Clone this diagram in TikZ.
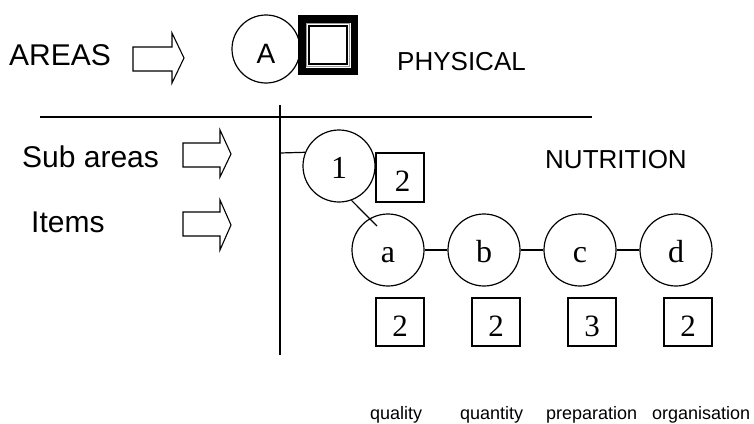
\documentclass[tikz,border=0pt]{standalone}
\usepackage{fontspec}
\setmainfont{Liberation Serif}
\newfontfamily\arialf{Liberation Sans}
\begin{document}
\begin{tikzpicture}[x=1pt,y=-1pt,
  lbl/.style={font=\arialf\fontsize{30}{33}\selectfont, anchor=base west, inner sep=0},
  hdr/.style={font=\arialf\fontsize{26}{29}\selectfont, anchor=base west, inner sep=0},
  small/.style={font=\arialf\fontsize{18}{20}\selectfont, anchor=base west, inner sep=0},
  ring/.style={circle, draw, line width=1.2pt, minimum size=72pt, inner sep=0, text height=24pt, text depth=0pt, font=\fontsize{32}{34}\selectfont},
  numbox/.style={rectangle, draw, line width=1.2pt, minimum width=48pt, minimum height=48pt, inner sep=0, text height=28pt, text depth=0pt, font=\fontsize{31}{33}\selectfont},
  line/.style={line width=1.2pt},
  barrow/.style={draw, line width=1.1pt, fill=white}
]
\useasboundingbox (0,0) rectangle (754,423);

% left labels
\node[lbl] (areas) at (9,65) {AREAS};
\node[lbl] (subareas) at (22,167) {Sub areas};
\node[lbl] (items) at (31,232) {Items};

% block arrows
\draw[barrow] (133,47) -- (172,47) -- (172,33) -- (184,58) -- (172,83) -- (172,71) -- (133,71) -- cycle;
\draw[barrow] (183,143) -- (220,143) -- (220,130) -- (231,154) -- (220,177) -- (220,167) -- (183,167) -- cycle;
\draw[barrow] (183,212) -- (220,212) -- (220,200) -- (231,225) -- (220,250) -- (220,236) -- (183,236) -- cycle;

% area A and double square
\node[circle, draw, line width=1.2pt, minimum size=68pt, inner sep=0, text height=28pt, text depth=0pt, font=\arialf\fontsize{28}{30}\selectfont] (A) at (266,49) {A};
\node[rectangle, fill=black, minimum size=60pt, inner sep=0] (dsq) at (328,45) {};
\node[rectangle, fill=white, minimum size=45pt, inner sep=0] (dsqw) at (dsq.center) {};
\node[rectangle, draw=black!40, line width=0.6pt, minimum size=43pt, inner sep=0] (dsqg) at (dsq.center) {};
\node[rectangle, draw=black, line width=1.8pt, minimum size=38pt, inner sep=0] (dsqi) at (dsq.center) {};

\node[hdr] (physical) at (397,70) {PHYSICAL};
\node[hdr] (nutrition) at (545,168) {NUTRITION};

% axes
\coordinate (hl) at (40,117);
\coordinate (hr) at (592,117);
\coordinate (vt) at (280,105);
\coordinate (vb) at (280,355);
\draw[line] (hl) -- (hr);
\draw[line] (vt) -- (vb);

% sub area
\node[ring] (c1) at (339,166) {1};
\coordinate (stub) at (280,153);
\draw[line] (stub) -- (c1.158.9);
\node[numbox, minimum height=49pt] (s1) at (400,177.5) {\hspace{5pt}2};

% items
\node[ring] (a) at (388,250) {a};
\node[ring] (b) at (484,250) {b};
\node[ring] (c) at (580,250) {c};
\node[ring] (d) at (676,250) {d};
\coordinate (aend) at (377,226);
\draw[line] (c1.-70.1) -- (aend);
\draw[line] (a) -- (b);
\draw[line] (b) -- (c);
\draw[line] (c) -- (d);

\node[numbox] (sa) at (400,322) {2};
\node[numbox] (sb) at (496,322) {2};
\node[numbox] (sc) at (592,322) {3};
\node[numbox] (sd) at (688,322) {2};

% bottom labels
\node[small] (q1) at (370,419) {quality};
\node[small] (q2) at (460,419) {quantity};
\node[small] (q3) at (546,419) {preparation};
\node[small] (q4) at (652,419) {organisation};
\end{tikzpicture}
\end{document}
